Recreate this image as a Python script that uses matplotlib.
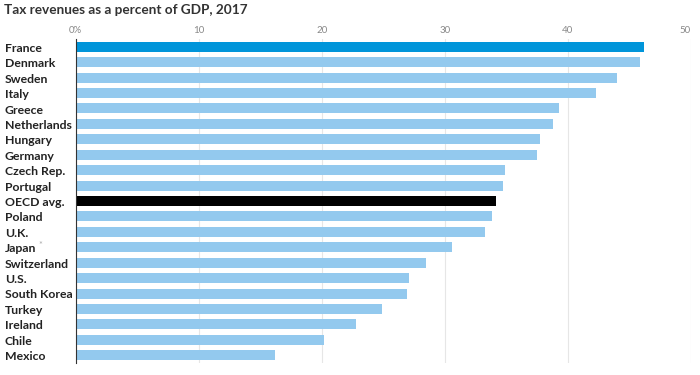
import matplotlib.pyplot as plt

countries = ['France', 'Denmark', 'Sweden', 'Italy', 'Greece', 'Netherlands',
             'Hungary', 'Germany', 'Czech Rep.', 'Portugal', 'OECD avg.',
             'Poland', 'U.K.', 'Japan', 'Switzerland', 'U.S.', 'South Korea',
             'Turkey', 'Ireland', 'Chile', 'Mexico']
values = [46.2, 45.9, 44.0, 42.3, 39.3, 38.8, 37.7, 37.5, 34.9, 34.7, 34.2,
          33.8, 33.3, 30.6, 28.5, 27.1, 26.9, 24.9, 22.8, 20.2, 16.2]
ticks = [0, 10, 20, 30, 40, 50]
tick_labels = ['0%', '10', '20', '30', '40', '50']

plt.rcParams['font.family'] = ['Lato', 'DejaVu Sans']

fig = plt.figure(figsize=(7, 3.75), dpi=100)
ax = fig.add_axes([0.108, 0.032, 0.879, 0.864])

colors = []
for c in countries:
    if c == 'France':
        colors.append('#0095da')
    elif c == 'OECD avg.':
        colors.append('#000000')
    else:
        colors.append('#93c9ee')

ypos = range(len(countries))
ax.barh(ypos, values, height=0.64, color=colors, zorder=2)

ax.set_xlim(0, 50)
ax.set_ylim(len(countries) - 0.5, -0.5)
ax.set_xticks(ticks)
ax.set_xticklabels(tick_labels)
ax.xaxis.tick_top()
ax.tick_params(axis='x', length=0, pad=3, labelsize=7, labelcolor='#888888')
ax.get_xticklabels()[-1].set_ha('right')
ax.grid(axis='x', color='#e6e6e6', linewidth=0.8, zorder=0)

ax.set_yticks([])
for s in ['top', 'right', 'bottom']:
    ax.spines[s].set_visible(False)
ax.spines['left'].set_color('#333333')
ax.spines['left'].set_linewidth(0.8)

# country labels, left aligned at the figure edge
for i, c in enumerate(countries):
    y = 1 - (48.5 + i * 15.4) / 375
    fig.text(0.007, y, c, ha='left', va='center', fontsize=8.8,
             fontweight='bold', color='#222222')
    if c == 'Japan':
        fig.text(0.055, y + 0.008, '*', ha='left', va='center',
                 fontsize=6.5, color='#aaaaaa')

fig.text(0.006, 0.972, 'Tax revenues as a percent of GDP, 2017', ha='left',
         va='center', fontsize=9.8, fontweight='bold', color='#333333')

fig.savefig('out.png', dpi=100)
